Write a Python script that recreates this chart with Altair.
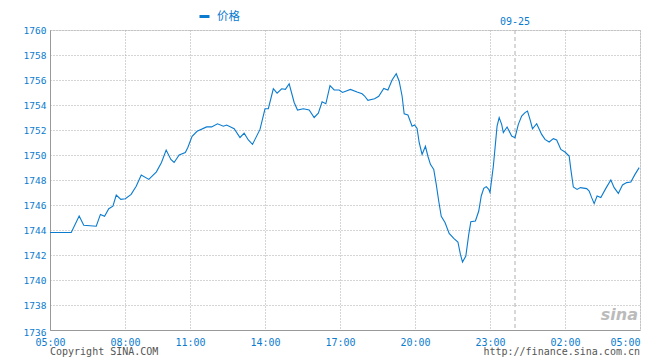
import altair as alt
import pandas as pd

# minutes elapsed since 05:00 (start of session) and price
minutes = [0, 51, 70, 81, 111, 121, 131, 141, 151, 159, 170, 181, 197, 211, 225, 246, 267, 281, 294, 307,
           316, 330, 347, 354, 365, 377, 400, 412, 426, 440, 448, 466, 480, 490, 500, 510, 528, 540, 548, 560,
           569, 580, 589, 598, 610, 618, 632, 646, 658, 668, 677, 686, 696, 706, 718, 726, 745, 761, 773, 779,
           787, 803, 813, 825, 835, 845, 855, 862, 869, 874, 883, 893, 899, 905, 910, 917, 925, 931, 937, 945,
           951, 957, 963, 972, 982, 993, 1003, 1009, 1014, 1022, 1029, 1034, 1045, 1053, 1059, 1065, 1071, 1077, 1080, 1084,
           1088, 1094, 1097, 1102, 1108, 1112, 1121, 1132, 1140, 1148, 1156, 1164, 1170, 1176, 1182, 1192, 1204, 1212, 1222, 1232,
           1240, 1250, 1260, 1270, 1274, 1280, 1289, 1297, 1312, 1318, 1324, 1330, 1337, 1346, 1358, 1370, 1378, 1388, 1398, 1408,
           1418, 1428, 1438]
prices = [1743.8, 1743.8, 1745.12, 1744.38, 1744.3, 1745.25, 1745.1, 1745.7, 1745.9, 1746.8, 1746.45, 1746.5, 1746.85, 1747.5, 1748.4, 1748.05, 1748.65, 1749.4, 1750.4, 1749.65,
          1749.4, 1750.0, 1750.2, 1750.6, 1751.5, 1751.9, 1752.25, 1752.25, 1752.5, 1752.3, 1752.4, 1752.1, 1751.4, 1751.75, 1751.2, 1750.85, 1752.05, 1753.7, 1753.7, 1755.3,
          1754.95, 1755.3, 1755.25, 1755.7, 1754.2, 1753.6, 1753.7, 1753.6, 1753.0, 1753.35, 1754.25, 1754.1, 1755.55, 1755.2, 1755.2, 1755.0, 1755.25, 1755.04, 1754.9, 1754.72,
          1754.37, 1754.5, 1754.7, 1755.33, 1755.2, 1756.0, 1756.5, 1755.9, 1754.72, 1753.3, 1753.2, 1752.3, 1752.4, 1752.13, 1751.0, 1750.05, 1750.7, 1749.9, 1749.25, 1748.85,
          1747.65, 1746.3, 1745.1, 1744.6, 1743.73, 1743.33, 1743.04, 1742.05, 1741.44, 1741.92, 1743.65, 1744.67, 1744.72, 1745.52, 1746.72, 1747.33, 1747.47, 1747.25, 1747.0, 1748.05,
          1749.1, 1751.25, 1752.32, 1752.99, 1752.45, 1751.8, 1752.24, 1751.52, 1751.39, 1752.45, 1753.12, 1753.39, 1753.52, 1752.85, 1752.1, 1752.5, 1751.65, 1751.25, 1751.04, 1751.31,
          1751.2, 1750.45, 1750.24, 1749.92, 1748.85, 1747.44, 1747.25, 1747.39, 1747.31, 1747.12, 1746.59, 1746.11, 1746.72, 1746.59, 1747.33, 1748.0, 1747.39, 1746.93, 1747.6, 1747.79,
          1747.84, 1748.45, 1748.99]
assert len(minutes) == len(prices)

series_name = "价格"
x_tick_values = [0, 180, 360, 540, 720, 900, 1080, 1260, 1440]
x_tick_labels = ["05:00", "08:00", "11:00", "14:00", "17:00", "20:00", "23:00", "02:00", "05:00"]
y_tick_values = [1736, 1738, 1740, 1742, 1744, 1746, 1748, 1750, 1752, 1754, 1756, 1758, 1760]
day_break_minute = [1140]
day_break_label = ["09-25"]
footer_left = ["Copyright  SINA.COM"]
footer_right = ["http://finance.sina.com.cn"]
watermark = ["sina"]

BLUE = "#0a7bcf"
MONO = "DejaVu Sans Mono"

df = pd.DataFrame({"minute": minutes, "price": prices, "series": [series_name] * len(minutes)})

label_expr = ("[" + ",".join(f"'{s}'" for s in x_tick_labels) + "][indexof(["
              + ",".join(str(v) for v in x_tick_values) + "], datum.value)]")

xscale = alt.Scale(domain=[0, 180, 360, 1440], range=[0, 75, 140, 590], nice=False, zero=False)
yscale = alt.Scale(domain=[1736, 1760], nice=False, zero=False)

x_axis = alt.Axis(values=x_tick_values, labelExpr=label_expr, title=None, grid=True,
                  gridDash=[1, 2], gridColor="#aaaaaa", domainColor="#999999", ticks=False, tickSize=0,
                  labelPadding=7, labelColor=BLUE, labelFont=MONO, labelFontSize=10,
                  labelFlush=False, labelOverlap=False, labelBound=False,
                  labelAlign={"condition": {"test": "datum.value >= 1440", "value": "right"}, "value": "center"})
y_axis = alt.Axis(values=y_tick_values, format="d", title=None, grid=True,
                  gridDash=[1, 2], gridColor="#aaaaaa", domainColor="#999999", ticks=False, tickSize=0,
                  labelPadding=4, labelColor=BLUE, labelFont=MONO, labelFontSize=9.5,
                  labelFlush=False, labelOverlap=False, labelBaseline="middle",
                  labelOffset={"condition": {"test": "datum.value == 1736", "value": 2.5}, "value": 0})

line = alt.Chart(df).mark_line(strokeWidth=1.1).encode(
    x=alt.X("minute:Q", scale=xscale, axis=x_axis),
    y=alt.Y("price:Q", scale=yscale, axis=y_axis),
    color=alt.Color("series:N", scale=alt.Scale(range=[BLUE]),
                    legend=alt.Legend(title=None, orient="none", legendX=148, legendY=-20,
                                      symbolType="stroke", symbolSize=100, symbolStrokeWidth=3,
                                      labelFont="Noto Sans CJK SC", labelFontSize=11.5, labelColor=BLUE,
                                      padding=0, labelOffset=6)),
)

day_df = pd.DataFrame({"minute": day_break_minute, "label": day_break_label})
rule = alt.Chart(day_df).mark_rule(color="#b0b0b0", strokeDash=[4, 3], strokeWidth=1).encode(
    x=alt.X("minute:Q", scale=xscale))
day_text = alt.Chart(day_df).mark_text(font=MONO, fontSize=10, color=BLUE, baseline="middle").encode(
    x=alt.X("minute:Q", scale=xscale), y=alt.value(-8), text="label:N")

foot_l = alt.Chart(pd.DataFrame({"t": footer_left})).mark_text(
    font=MONO, fontSize=10, color="#555555", align="left", baseline="alphabetic").encode(
    x=alt.value(0), y=alt.value(325), text="t:N")
foot_r = alt.Chart(pd.DataFrame({"t": footer_right})).mark_text(
    font=MONO, fontSize=10, color="#555555", align="right", baseline="alphabetic").encode(
    x=alt.value(590), y=alt.value(325), text="t:N")
wm = alt.Chart(pd.DataFrame({"t": watermark})).mark_text(
    font="DejaVu Sans", fontSize=16, fontStyle="italic", fontWeight="bold", color="#bbbbbb",
    align="right", baseline="alphabetic").encode(x=alt.value(588), y=alt.value(290), text="t:N")

chart = alt.layer(rule, line, day_text, foot_l, foot_r, wm).properties(
    width=590, height=300,
    autosize=alt.AutoSizeParams(type="none"),
    padding={"left": 42, "top": 22, "right": 12, "bottom": 28},
).configure_view(stroke="#999999", strokeWidth=1).configure(background="white")

chart.save("out.html", embed_options={"renderer": "svg", "actions": False})
